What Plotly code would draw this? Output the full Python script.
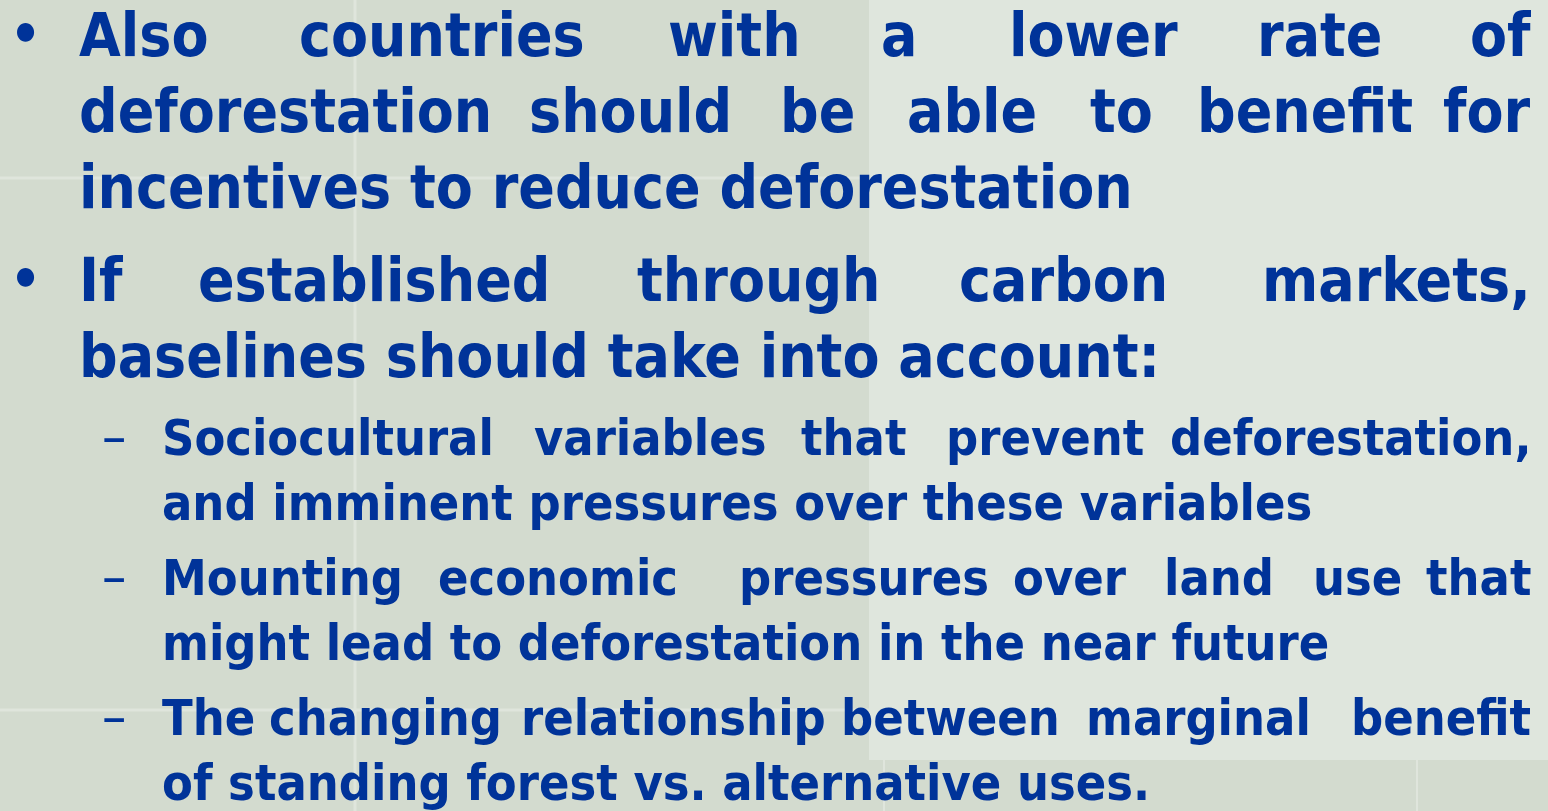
import plotly.graph_objects as go

# ---------------- content ----------------
line_words = [
    ["Also", "countries", "with", "a", "lower", "rate", "of"],
    ["deforestation", "should", "be", "able", "to", "benefit", "for"],
    ["incentives to reduce deforestation"],
    ["If", "established", "through", "carbon", "markets,"],
    ["baselines should take into account:"],
    ["Sociocultural", "variables", "that", "prevent", "deforestation,"],
    ["and imminent pressures over these variables"],
    ["Mounting", "economic", "pressures", "over", "land", "use", "that"],
    ["might lead to deforestation in the near future"],
    ["The", "changing", "relationship", "between", "marginal", "benefit"],
    ["of standing forest vs. alternative uses."],
]
line_level = [1, 1, 1, 1, 1, 2, 2, 2, 2, 2, 2]
line_marker = ["•", None, None, "•", None, "–", None, "–", None, "–", None]

# ---------------- layout (pixels) ----------------
W, H = 1548, 811
RIGHT_EDGE = 1532
word_x = [
    [78, 298, 667, 880, 1008, 1256, 1476],
    [78, 528, 779, 906, 1089, 1196, 1455],
    [78],
    [78, 197, 636, 958, 1268],
    [78],
    [161, 533, 800, 945, 1183],
    [161],
    [161, 437, 738, 1012, 1163, 1312, 1432],
    [161],
    [161, 268, 520, 840, 1085, 1390],
    [161],
]
line_baseline = [57, 133, 209, 302, 378, 457, 522, 597, 662, 737, 802]
marker_x = {1: 9, 2: 101}
marker_dy = {1: -3, 2: 0}
font_size = {1: 60, 2: 50}
marker_size = {1: 54, 2: 54}

TEXT_COLOR = "#003399"
BG = "#d3dbcf"
BG_LIGHT = "#dfe6dd"
FAINT = "#dfe5dc"
FONT = "DejaVu Sans Condensed, Liberation Sans Narrow, DejaVu Sans, sans-serif"

fig = go.Figure()
fig.add_trace(go.Scatter(x=[0, W], y=[0, H], mode="markers",
                         marker=dict(opacity=0), hoverinfo="skip", showlegend=False))

annotations = []
for words, xs, base, lvl, mk in zip(line_words, word_x, line_baseline, line_level, line_marker):
    s = font_size[lvl]
    yc = base - 0.375 * s
    justified = len(words) > 1
    for i, (w, x) in enumerate(zip(words, xs)):
        last = justified and i == len(words) - 1
        annotations.append(dict(
            x=RIGHT_EDGE if last else x, y=yc, xref="x", yref="y",
            text=w, showarrow=False,
            xanchor="right" if last else "left", yanchor="middle",
            font=dict(family=FONT, size=s, color=TEXT_COLOR, weight="bold"),
            borderpad=0,
        ))
    if mk:
        ms = marker_size[lvl]
        annotations.append(dict(
            x=marker_x[lvl], y=base - 0.375 * ms + marker_dy[lvl], xref="x", yref="y",
            text=mk, showarrow=False, xanchor="left", yanchor="middle",
            font=dict(family=FONT, size=ms, color=TEXT_COLOR,
                      weight="bold" if lvl == 1 else "normal"),
            borderpad=0,
        ))

shapes = [
    dict(type="rect", xref="x", yref="y", x0=869, x1=W, y0=0, y1=760,
         fillcolor=BG_LIGHT, line=dict(width=0), layer="below"),
    dict(type="line", xref="x", yref="y", x0=355, x1=355, y0=0, y1=H,
         line=dict(color=FAINT, width=3), layer="below"),
    dict(type="line", xref="x", yref="y", x0=0, x1=869, y0=178, y1=178,
         line=dict(color=FAINT, width=3), layer="below"),
    dict(type="line", xref="x", yref="y", x0=0, x1=869, y0=710, y1=710,
         line=dict(color=FAINT, width=3), layer="below"),
    dict(type="line", xref="x", yref="y", x0=884, x1=884, y0=760, y1=H,
         line=dict(color=FAINT, width=2), layer="below"),
    dict(type="line", xref="x", yref="y", x0=1417, x1=1417, y0=760, y1=H,
         line=dict(color=FAINT, width=2), layer="below"),
]

fig.update_layout(
    width=W, height=H,
    margin=dict(l=0, r=0, t=0, b=0),
    paper_bgcolor=BG, plot_bgcolor=BG,
    xaxis=dict(range=[0, W], visible=False, fixedrange=True),
    yaxis=dict(range=[H, 0], visible=False, fixedrange=True),
    annotations=annotations, shapes=shapes,
    showlegend=False,
)
fig.write_html(
    "out.html",
    config={"displayModeBar": False},
    post_script="document.body.style.margin='0';document.body.style.overflow='hidden';",
)
